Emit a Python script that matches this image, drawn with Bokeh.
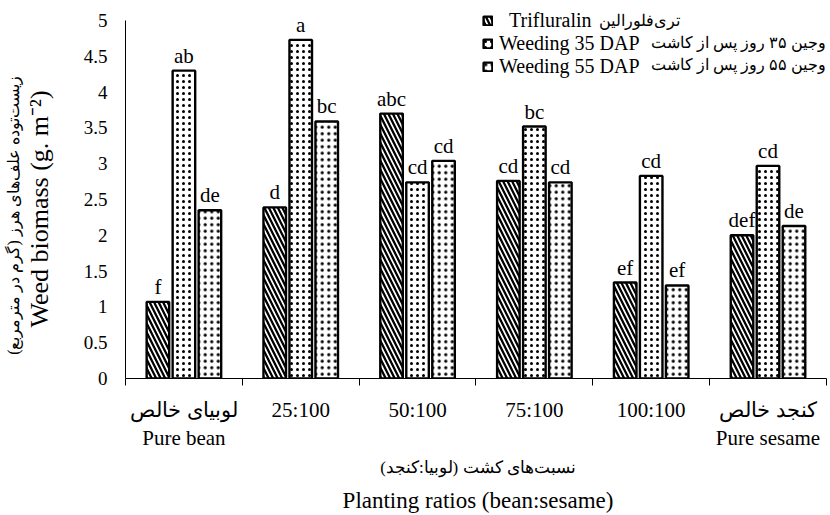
import numpy as np
from bokeh.plotting import figure
from bokeh.models import (ColumnDataSource, FixedTicker, LinearAxis, Legend, LegendItem,
                          Range1d, CustomJSTickFormatter, Label)
from bokeh.embed import file_html
from bokeh.resources import INLINE
from bokeh.core.properties import value

# ---------------- data ----------------
categories = ["لوبیای خالص\nPure bean", "25:100", "50:100", "75:100", "100:100",
              "کنجد خالص\nPure sesame"]
trifluralin = [1.07, 2.39, 3.70, 2.76, 1.34, 2.00]
weeding35 = [4.30, 4.73, 2.74, 3.52, 2.83, 2.97]
weeding55 = [2.35, 3.59, 3.04, 2.74, 1.30, 2.13]
letters_trifluralin = ["f", "d", "abc", "cd", "ef", "def"]
letters_weeding35 = ["ab", "a", "cd", "bc", "cd", "cd"]
letters_weeding55 = ["de", "bc", "cd", "cd", "ef", "de"]
series_names_en = ["\u00a0\u00a0Trifluralin", "Weeding 35 DAP", "Weeding 55 DAP"]
series_names_fa = ["تری‌فلورالین", "وجین ۳۵ روز پس از کاشت", "وجین ۵۵ روز پس از کاشت"]
y_ticks = [0, 0.5, 1, 1.5, 2, 2.5, 3, 3.5, 4, 4.5, 5]
y_tick_labels = ["0", "0.5", "1", "1.5", "2", "2.5", "3", "3.5", "4", "4.5", "5"]
y_title_fa = "زیست‌توده علف‌های هرز (گرم در مترمربع)"
y_title_en = "Weed biomass (g. m⁻²)"
x_title_fa = "نسبت‌های کشت (لوبیا:کنجد)"
x_title_en = "Planting ratios (bean:sesame)"

FONT = "Liberation Serif"
NBSP = "\u00a0"

# ---------------- figure ----------------
p = figure(width=830, height=515, x_range=Range1d(0, 6.035), y_range=Range1d(0, 5.28),
           output_backend="svg", toolbar_location=None,
           min_border_left=125, min_border_right=0, min_border_top=0, min_border_bottom=137)
p.grid.visible = False
p.outline_line_color = None
p.background_fill_color = "white"
p.border_fill_color = "white"

centers = np.arange(len(categories)) + 0.5
pitch = 0.2225
bar_w = 0.193
styles = [
    dict(hatch_pattern="\\", hatch_scale=9, hatch_weight=2.3),
    dict(hatch_pattern=".", hatch_scale=6, hatch_weight=0.9),
    dict(hatch_pattern=".", hatch_scale=6.5, hatch_weight=4.4),
]
series = [trifluralin, weeding35, weeding55]
letters = [letters_trifluralin, letters_weeding35, letters_weeding55]

renderers = []
for i, (vals, lets, st) in enumerate(zip(series, letters, styles)):
    src = ColumnDataSource(dict(x=centers + (i - 1) * pitch, top=vals, lab=lets))
    r = p.vbar(x="x", top="top", width=bar_w, bottom=0, source=src,
               fill_color="white", line_color="black", line_width=2.4,
               hatch_color="black", **st)
    renderers.append(r)
    p.text(x="x", y="top", text="lab", source=src, text_align="center",
           text_baseline="alphabetic", y_offset=-15,
           text_font=value(FONT), text_font_size="21px", text_color="black")

# ---------------- axes ----------------
xa = p.xaxis[0]
xa.bounds = (0, len(categories))
xa.ticker = FixedTicker(ticks=list(centers), minor_ticks=list(range(len(categories) + 1)))
xa.formatter = CustomJSTickFormatter(args=dict(labels=categories),
                                     code="return labels[Math.floor(tick)];")
xa.major_tick_line_color = None
xa.major_tick_out = 0
xa.major_tick_in = 0
xa.minor_tick_out = 7
xa.minor_tick_in = 0
xa.minor_tick_line_color = "black"
xa.axis_line_color = "black"
xa.major_label_text_font = FONT
xa.major_label_text_font_size = "21px"
xa.major_label_text_color = "black"
xa.major_label_standoff = 12
xa.axis_label = x_title_fa
xa.axis_label_text_font = FONT
xa.axis_label_text_font_size = "17px"
xa.axis_label_text_font_style = "normal"
xa.axis_label_text_color = "black"
xa.axis_label_standoff = 5

xa2 = LinearAxis(ticker=FixedTicker(ticks=[]), axis_line_color=None,
                 major_tick_line_color=None, minor_tick_line_color=None,
                 major_tick_out=0, minor_tick_out=0, major_label_text_font_size="0px",
                 axis_label=x_title_en, axis_label_text_font=FONT,
                 axis_label_text_font_size="23px", axis_label_text_font_style="normal",
                 axis_label_text_color="black", axis_label_standoff=7)
p.add_layout(xa2, "below")

ya = p.yaxis[0]
ya.bounds = (0, 5)
ya.ticker = FixedTicker(ticks=y_ticks)
ya.formatter = CustomJSTickFormatter(
    args=dict(tvals=y_ticks, tlabels=y_tick_labels),
    code="const i = tvals.findIndex(t => Math.abs(t - tick) < 1e-6); return i >= 0 ? tlabels[i] : '';")
ya.major_tick_line_color = None
ya.minor_tick_line_color = None
ya.major_tick_out = 0
ya.major_tick_in = 0
ya.axis_line_color = "black"
ya.major_label_text_font = FONT
ya.major_label_text_font_size = "19px"
ya.major_label_text_color = "black"
ya.major_label_standoff = 18

# English and Persian y titles on title-only axes (trailing spaces shift them down a little)
ya_en = LinearAxis(ticker=FixedTicker(ticks=[]), axis_line_color=None,
                   major_tick_line_color=None, minor_tick_line_color=None,
                   major_tick_out=0, minor_tick_out=0, major_label_text_font_size="0px",
                   axis_label=y_title_en + NBSP * 6, axis_label_text_font=FONT,
                   axis_label_text_font_size="26px", axis_label_text_font_style="normal",
                   axis_label_text_color="black", axis_label_standoff=27)
p.add_layout(ya_en, "left")

ya_fa = LinearAxis(ticker=FixedTicker(ticks=[]), axis_line_color=None,
                   major_tick_line_color=None, minor_tick_line_color=None,
                   major_tick_out=0, minor_tick_out=0, major_label_text_font_size="0px",
                   axis_label=y_title_fa + NBSP * 13, axis_label_text_font=FONT,
                   axis_label_text_font_size="16px", axis_label_text_font_style="normal",
                   axis_label_text_color="black", axis_label_standoff=0)
p.add_layout(ya_fa, "left")

# ---------------- legend ----------------
legend = Legend(items=[LegendItem(label=n, renderers=[r]) for n, r in zip(series_names_en, renderers)],
                location=(357, 300), orientation="vertical",
                border_line_color=None, background_fill_alpha=0,
                padding=0, margin=0, spacing=0, label_height=21,
                glyph_height=11, glyph_width=11, label_standoff=6,
                label_text_font=FONT, label_text_font_size="20px",
                label_text_color="black")
p.add_layout(legend)

# Persian part of each legend entry, placed after the English text (screen px in the frame)
fa_x = [473, 525, 525]
fa_y = [358, 336, 314]
for t, sx, sy in zip(series_names_fa, fa_x, fa_y):
    p.add_layout(Label(x=sx, y=sy, x_units="screen", y_units="screen", text=t,
                       text_font=FONT, text_font_size="16px", text_color="black",
                       text_align="left", text_baseline="middle"))

open("out.html", "w").write(file_html(p, INLINE))
